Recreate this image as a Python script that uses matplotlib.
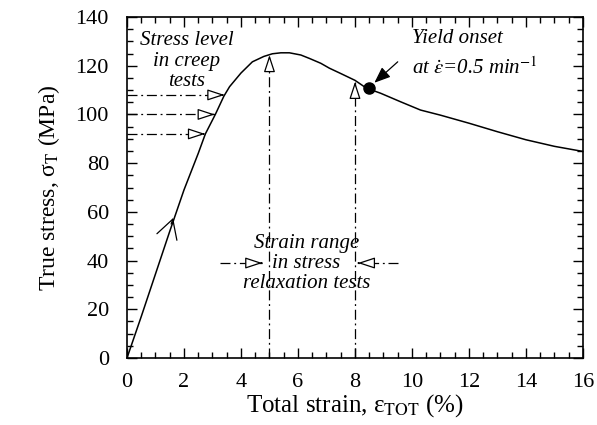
import numpy as np
import matplotlib
matplotlib.use("Agg")
import matplotlib.pyplot as plt

plt.rcParams['font.family'] = ['Liberation Serif', 'DejaVu Serif']
plt.rcParams['mathtext.fontset'] = 'stix'

# curva tension-deformacion
deform = [0, 0.5, 1.0, 1.5, 2.0, 2.5, 2.75, 3.1, 3.4, 3.6, 4.0, 4.4, 4.8, 5.1,
          5.4, 5.7, 6.1, 6.4, 6.8, 7.1, 7.5, 8.0, 8.4, 8.9, 9.6, 10.3, 11.0,
          12.0, 13.0, 14.0, 15.0, 16.0]
tension = [0, 17, 34.5, 52, 69, 84, 92, 100, 107.5, 111.4, 117, 121.6, 123.8,
           124.9, 125.3, 125.3, 124.4, 123, 121, 119, 116.8, 114, 110.8, 108.7,
           105.2, 101.8, 99.7, 96.4, 92.9, 89.6, 86.9, 84.8]

niveles_creep = [108, 100, 92]
puntas_creep = [3.42, 3.08, 2.74]
deform_relax = [5, 8]
puntas_relax = [124.4, 113.4]
rango_y = 39
rango_izq = [3.25, 4.75]
rango_der = [9.5, 8.1]
fluencia = (8.5, 111)

fig = plt.figure(figsize=(5.97, 4.25), dpi=100)
ax = fig.add_axes([0.2127, 0.1576, 0.7638, 0.8024])

ax.plot(deform, tension, color='black', lw=1.1)
ax.plot(fluencia[0], fluencia[1], 'o', color='black', ms=8)

estilo = (0, (8, 3, 1.5, 3))
cabeza = dict(arrowstyle='-|>,head_length=0.7,head_width=0.23', fc='white',
              ec='black', lw=0.9, mutation_scale=15, shrinkA=0, shrinkB=0)


def flecha(x0, y0, x1, y1):
    ax.plot([x0, x1], [y0, y1], color='black', lw=0.9, linestyle=estilo)
    # punta hueca al final
    dx = (x1 - x0) * 0.02
    dy = (y1 - y0) * 0.02
    ax.annotate('', xy=(x1, y1), xytext=(x1 - dx, y1 - dy), arrowprops=cabeza,
                zorder=5)


for y, xp in zip(niveles_creep, puntas_creep):
    flecha(0, y, xp, y)

for x, yp in zip(deform_relax, puntas_relax):
    flecha(x, 0, x, yp)

flecha(rango_izq[0], rango_y, rango_izq[1], rango_y)
flecha(rango_der[0], rango_y, rango_der[1], rango_y)

# flecha abierta sobre la curva
ax.annotate('', xy=(1.62, 57.5), xytext=(1.55, 55),
            arrowprops=dict(arrowstyle='->,head_length=0.75,head_width=0.42',
                            lw=0.9, mutation_scale=18, shrinkA=0, shrinkB=0))

# flecha hacia el punto de fluencia
ax.annotate('', xy=(8.68, 113.0), xytext=(9.5, 121.6),
            arrowprops=dict(arrowstyle='-|>,head_length=0.7,head_width=0.28',
                            fc='black', lw=0.9, mutation_scale=14,
                            shrinkA=0, shrinkB=0))

ax.text(2.1, 121.8, 'Stress level\nin creep\ntests', style='italic',
        fontsize=15, ha='center', va='center', linespacing=1.1)
ax.text(10.0, 131.2, 'Yield onset', style='italic', fontsize=15,
        ha='left', va='center')
ax.text(10.0, 119.2, r'at $\dot{\varepsilon}$=0.5 min$^{-1}$', style='italic',
        fontsize=15, ha='left', va='center')
ax.text(6.3, 38.8, 'Strain range\nin stress\nrelaxation tests', style='italic',
        fontsize=15, ha='center', va='center', linespacing=1.1)

ax.set_xlim(0, 16)
ax.set_ylim(0, 140)
ax.set_xticks(np.arange(0, 17, 2))
ax.set_xticks(np.arange(0, 16.1, 0.5), minor=True)
ax.set_yticks(np.arange(0, 141, 20))
ax.set_yticks(np.arange(0, 141, 5), minor=True)
ax.tick_params(which='both', direction='in', top=True, right=True,
               labelsize=16, width=1)
ax.tick_params(which='major', length=7)
ax.tick_params(axis='x', which='major', pad=11)
ax.tick_params(axis='y', which='major', pad=13)
ax.tick_params(which='minor', length=4)
for s in ax.spines.values():
    s.set_linewidth(1.2)

ax.set_xlabel(r'Total strain, ε$_{\mathrm{TOT}}$ (%)', fontsize=18, labelpad=0)
ax.set_ylabel(r'True stress, σ$_{\mathrm{T}}$ (MPa)', fontsize=17, labelpad=10)

fig.savefig('out.png', dpi=100)
